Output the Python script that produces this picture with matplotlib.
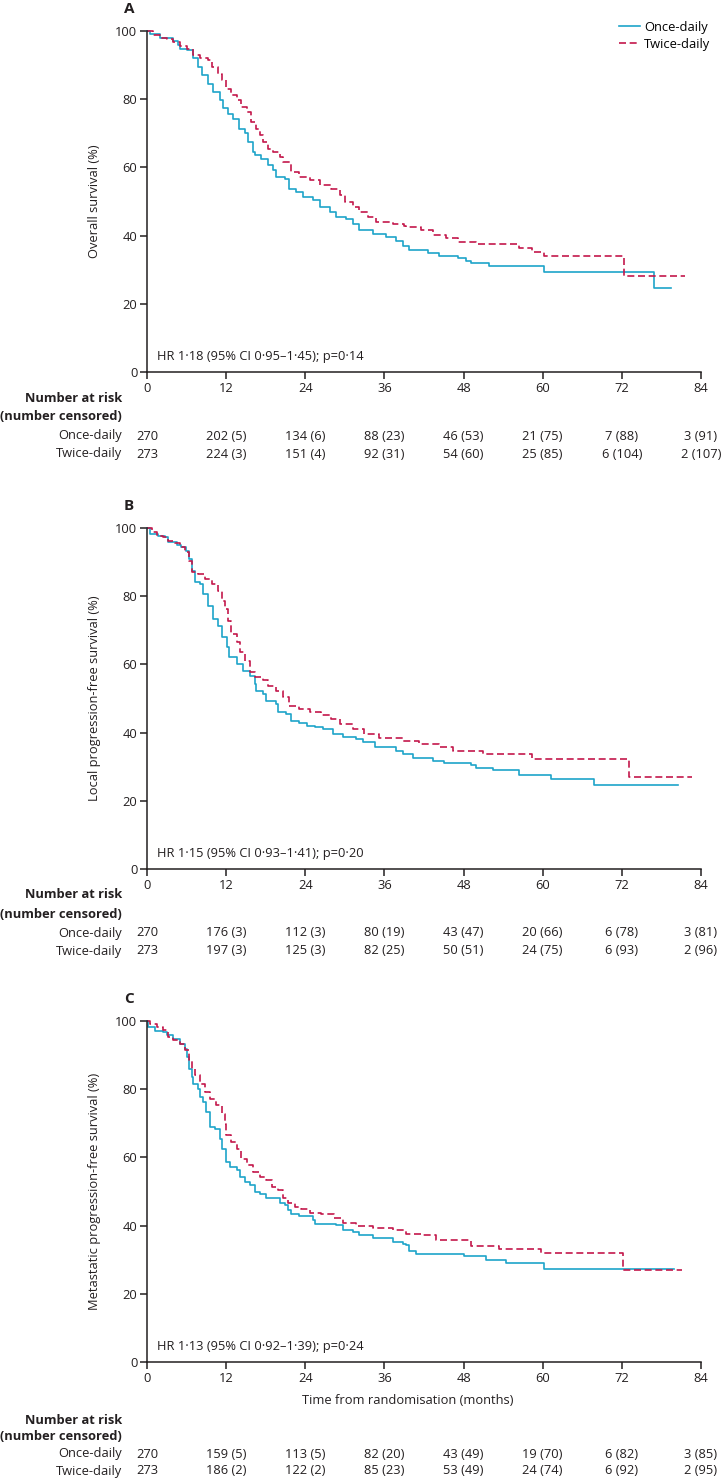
import numpy as np
import matplotlib.pyplot as plt
from matplotlib.transforms import blended_transform_factory

W, H = 723, 1479
BLUE = "#1ea4c9"
RED = "#c3184b"
INK = "#231f20"
FS = 9.3

plt.rcParams["font.family"] = ["Open Sans", "DejaVu Sans"]
plt.rcParams["font.size"] = FS

# ---- data ----
months = [0, 12, 24, 36, 48, 60, 72, 84]

# A: overall survival
a_once_t = [0, 0.45, 2, 4, 4.7, 5, 6, 7, 7.8, 8.3, 9.3, 10, 11, 11.5, 12.3, 13.1, 14, 14.8, 15.3, 16.1,
            16.3, 17.3, 18.4, 19.1, 19.6, 20.9, 21.6, 22.6, 23.6, 25.2, 26.2, 27.7, 28.7, 30.2, 31.2, 32.2,
            34.2, 36.3, 37.8, 38.8, 39.8, 42.6, 44.3, 47.1, 48.4, 49.1, 51.9, 60.2, 76.9, 79.5]
a_once_s = [100, 99, 98, 97, 95.9, 94.7, 94.4, 92, 89.5, 87, 84.6, 82.2, 79.7, 77.3, 75.8, 74.3, 71.4, 70, 67.5, 64.5,
            63.5, 62.5, 60.6, 59.1, 57.2, 56.7, 53.7, 52.7, 51.3, 50.3, 48.3, 46.9, 45.4, 44.9, 43.4, 41.5,
            40.5, 39.5, 38.5, 37, 35.9, 34.8, 34.1, 33.3, 32.6, 31.9, 31.1, 29.4, 24.5, 24.5]
a_twice_t = [0, 0.96, 2, 3, 4, 5, 6, 7, 8, 9.3, 9.8, 10.8, 11.3, 12, 12.8, 13.6, 14.3, 15.1, 15.8, 16.6,
             17.1, 17.6, 18.4, 19.1, 20.1, 20.6, 21.9, 23.1, 24.7, 26.2, 27.9, 29.2, 30, 31.2, 32.2, 33.5,
             34.7, 37.3, 39, 39.3, 41.6, 43.3, 45.3, 47.1, 49.9, 56.4, 58.4, 60.2, 72.3, 81.6]
a_twice_s = [100, 98.8, 98, 97.6, 96.9, 95.7, 94.7, 92.9, 92, 91.5, 89.5, 87.5, 85.6, 83.1, 81.2, 79.7, 77.7, 76.3, 73.3, 71.4,
             69.4, 67.5, 65.5, 64.5, 63, 61.6, 58.6, 57.2, 56.2, 54.7, 53.7, 51.8, 49.8, 48.3, 46.9, 45.4,
             43.9, 43.4, 42.8, 42.4, 41.6, 40.2, 39.2, 38.2, 37.5, 36.3, 35.3, 34, 28.2, 28.2]
a_risk_once = ["270", "202 (5)", "134 (6)", "88 (23)", "46 (53)", "21 (75)", "7 (88)", "3 (91)"]
a_risk_twice = ["273", "224 (3)", "151 (4)", "92 (31)", "54 (60)", "25 (85)", "6 (104)", "2 (107)"]

# B: local progression-free survival
b_once_t = [0, 0.45, 1.7, 2.7, 3.2, 4.5, 5.2, 5.9, 6.3, 6.8, 7.3, 8, 8.5, 9.3, 10, 10.8, 11.3, 12.1, 12.5, 13.6,
            14.6, 15.6, 16.3, 16.6, 17.6, 18.1, 19.6, 19.9, 21.1, 21.9, 23.1, 24.2, 25.4, 26.7, 28.2, 29.7,
            31.7, 32.7, 34.5, 37.8, 38.8, 40.3, 43.3, 45.1, 49.1, 49.9, 52.4, 56.4, 61.2, 67.8, 80.5]
b_once_s = [100, 98.2, 97.8, 97.5, 95.8, 95.1, 94.3, 93.2, 90.9, 87.5, 84.1, 83.6, 80.6, 77.2, 73.3, 71.4, 67.9, 65, 62.1, 60.1,
            58.2, 56.7, 54.3, 52.3, 51.3, 49.4, 48.4, 45.9, 45.5, 43.5, 42.8, 42, 41.5, 41.1, 39.6, 38.8,
            38.1, 37.1, 35.9, 34.7, 33.7, 32.6, 31.8, 31.2, 30.4, 29.7, 28.9, 27.7, 26.5, 24.5, 24.5]
b_twice_t = [0, 0.7, 1.5, 2.5, 3.2, 4.2, 5, 5.7, 6.3, 6.8, 7.8, 8.8, 9.8, 10.8, 11.3, 11.8, 12.3, 12.8, 13.6, 14.1,
             14.8, 15.6, 16.3, 17.6, 18.4, 19.6, 20.6, 21.6, 23.1, 24.7, 26.4, 27.9, 29.2, 31.2, 32.9, 35.2,
             38.8, 41.3, 44.3, 46.4, 51, 58.4, 73.1, 82.6]
b_twice_s = [100, 98.7, 97.8, 97.3, 96.1, 95.5, 94.3, 92.9, 90.4, 87, 86.5, 85, 83.6, 81.6, 78.7, 76.2, 72.8, 68.9, 66.5, 63.5,
             61.1, 57.7, 56.2, 55.4, 53.8, 52.3, 50.3, 47.9, 46.9, 45.9, 45.3, 44, 42.5, 41.1, 39.6, 38.4,
             37.6, 36.7, 35.9, 34.5, 33.6, 32.3, 27.1, 27.1]
b_risk_once = ["270", "176 (3)", "112 (3)", "80 (19)", "43 (47)", "20 (66)", "6 (78)", "3 (81)"]
b_risk_twice = ["273", "197 (3)", "125 (3)", "82 (25)", "50 (51)", "24 (75)", "6 (93)", "2 (96)"]

# C: metastatic progression-free survival
c_once_t = [0, 0.2, 1.2, 2.5, 3, 4, 5, 5.7, 6, 6.3, 6.8, 7, 7.8, 8, 8.5, 9, 9.5, 10.3, 11, 11.3,
            12, 12.6, 13.6, 14.1, 14.8, 15.6, 16.3, 17.1, 18.1, 20.1, 20.9, 21.4, 21.9, 23.1, 25.2, 25.4,
            26.2, 28.7, 29.7, 31.2, 32.2, 34.2, 37.3, 38.8, 39.3, 39.8, 40.8, 48.1, 51.4, 54.4, 60.2, 79.9]
c_once_s = [100, 98.2, 97, 96.8, 95.8, 94.8, 93.4, 91.9, 89.4, 86, 83.6, 81.6, 80.2, 77.7, 76.2, 73.4, 69, 68.4, 65.5, 62.6,
            58.7, 57.2, 56.2, 54.3, 52.8, 51.8, 50, 49.4, 48, 46.5, 46, 44.5, 43.4, 42.8, 41.6, 40.6,
            40.4, 40.1, 38.7, 38.1, 37.1, 36.5, 35.3, 34.6, 34.2, 32.5, 31.8, 31, 30, 29.1, 27.4, 27.4]
c_twice_t = [0, 0.5, 1.5, 2.5, 3.2, 4, 5, 5.7, 6.3, 6.8, 7.3, 8, 8.8, 9.5, 10.5, 11.3, 11.8, 12, 12.8, 13.6,
             14.3, 15.1, 16.1, 17.1, 18.1, 18.9, 19.9, 20.6, 21.4, 22.4, 23.4, 24.7, 26.4, 28.4, 29.7, 31.7,
             34.2, 37.3, 39.3, 41.6, 43.8, 49.1, 53.4, 59.7, 72.1, 81.1]
c_twice_s = [100, 99.2, 98.2, 97.3, 95.3, 94.3, 93.4, 91.4, 88.5, 86, 84.1, 81.6, 79.2, 77.2, 75.3, 72.8, 69.9, 66.5, 64.5, 62.6,
             59.6, 57.7, 55.7, 54.3, 53.3, 51.3, 50.3, 48, 46.5, 45.6, 45, 43.6, 43.3, 42.1, 40.7, 40,
             39.2, 38.6, 37.6, 37.1, 35.9, 34, 33, 32.1, 26.9, 26.9]
c_risk_once = ["270", "159 (5)", "113 (5)", "82 (20)", "43 (49)", "19 (70)", "6 (82)", "3 (85)"]
c_risk_twice = ["273", "186 (2)", "122 (2)", "85 (23)", "53 (49)", "24 (74)", "6 (92)", "2 (95)"]

panels = [
    ("A", "Overall survival (%)", "HR 1·18 (95% CI 0·95–1·45); p=0·14",
     a_once_t, a_once_s, a_twice_t, a_twice_s, a_risk_once, a_risk_twice),
    ("B", "Local progression-free survival (%)", "HR 1·15 (95% CI 0·93–1·41); p=0·20",
     b_once_t, b_once_s, b_twice_t, b_twice_s, b_risk_once, b_risk_twice),
    ("C", "Metastatic progression-free survival (%)", "HR 1·13 (95% CI 0·92–1·39); p=0·24",
     c_once_t, c_once_s, c_twice_t, c_twice_s, c_risk_once, c_risk_twice),
]

fig = plt.figure(figsize=(W / 100, H / 100), dpi=100)

left, right = 147, 701
tops = [31, 528, 1021]
plot_h = 341


def fy(py):
    # pixel row from top -> figure fraction
    return 1 - py / H


for i, (tag, ylab, hr, ot, os_, tt, ts, r_once, r_twice) in enumerate(panels):
    top = tops[i]
    bottom = top + plot_h
    ax = fig.add_axes([left / W, fy(bottom), (right - left) / W, plot_h / H])

    ax.step(ot, os_, where="post", color=BLUE, lw=1.2, clip_on=False, label="Once-daily")
    ax.step(tt, ts, where="post", color=RED, lw=1.2, dashes=(4.2, 2.2), clip_on=False, label="Twice-daily")

    ax.set_xlim(0, 84)
    ax.set_ylim(0, 100)
    ax.set_xticks(months)
    ax.set_yticks([0, 20, 40, 60, 80, 100])
    for s in ["top", "right"]:
        ax.spines[s].set_visible(False)
    for s in ["left", "bottom"]:
        ax.spines[s].set_linewidth(1.1)
        ax.spines[s].set_color(INK)
    ax.tick_params(direction="out", length=5, width=1.1, color=INK, labelcolor=INK, labelsize=FS, pad=2)

    ax.set_ylabel(ylab, color=INK, fontsize=FS)
    ax.yaxis.set_label_coords((101 - left) / (right - left), 0.5)
    ax.text(1.5, 4.5, hr, va="center", ha="left", color=INK, fontsize=FS)

    fig.text(129 / W, fy(top - 22), tag, fontweight="bold", fontsize=11, ha="center", va="center", color=INK)

    if i == 0:
        ax.legend(loc="upper left", bbox_to_anchor=(619 / W, fy(21)), bbox_transform=fig.transFigure,
                  frameon=False, handlelength=1.6, handletextpad=0.35, labelspacing=0.3,
                  borderpad=0, borderaxespad=0, fontsize=FS)

    # number at risk table
    trans = blended_transform_factory(ax.transData, fig.transFigure)
    if i == 2:
        ax.text(0.47, fy(bottom + 39), "Time from randomisation (months)",
                transform=blended_transform_factory(ax.transAxes, fig.transFigure),
                ha="center", va="center", color=INK, fontsize=FS)
        rows = [bottom + 58, bottom + 75, bottom + 92, bottom + 109]
    else:
        rows = [bottom + 26, bottom + 45, bottom + 64, bottom + 82]

    fig.text(122 / W, fy(rows[0]), "Number at risk", ha="right", va="center", fontweight="bold", color=INK)
    fig.text(122 / W, fy(rows[1]), "(number censored)", ha="right", va="center", fontweight="bold", color=INK)
    fig.text(122 / W, fy(rows[2]), "Once-daily", ha="right", va="center", color=INK)
    fig.text(122 / W, fy(rows[3]), "Twice-daily", ha="right", va="center", color=INK)
    for m, a, b in zip(months, r_once, r_twice):
        ax.text(m, fy(rows[2]), a, transform=trans, ha="center", va="center", color=INK, clip_on=False)
        ax.text(m, fy(rows[3]), b, transform=trans, ha="center", va="center", color=INK, clip_on=False)

fig.savefig("out.png", dpi=100)
